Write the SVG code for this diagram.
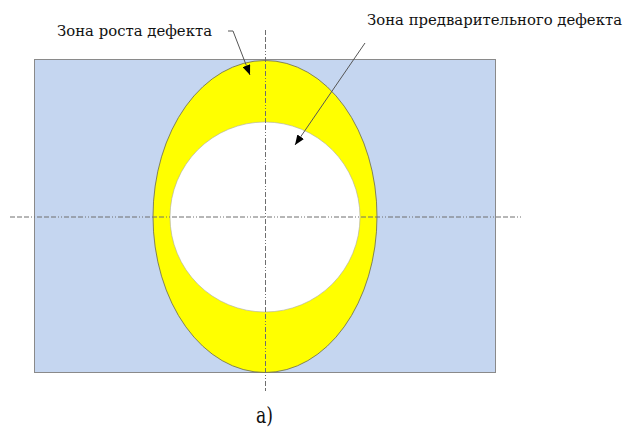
<svg xmlns="http://www.w3.org/2000/svg" width="630" height="427" viewBox="0 0 630 427">
<style>
.lbl{font-family:'DejaVu Serif','Liberation Serif',serif;fill:#111}
.axis{stroke:#6e6e6e;stroke-width:1;fill:none;stroke-dasharray:5,2,5,2,5,2,1,2,1,2}
.ldr{stroke:#555;stroke-width:1;fill:none}
</style>
<defs>
<marker id="ah" viewBox="0 0 10 8" refX="10" refY="4" markerWidth="10" markerHeight="8" markerUnits="userSpaceOnUse" orient="auto">
<path d="M0,0 L10,4 L0,8 Z" fill="#000"/>
</marker>
</defs>
<rect width="630" height="427" fill="#fff"/>
<g id="plate">
<rect x="34.5" y="59.5" width="461" height="313" fill="#C5D6F0" stroke="#8a8a8a" stroke-width="1"/>
</g>
<g id="growth-zone">
<ellipse cx="265" cy="216.5" rx="112" ry="156" fill="#FFFF00" stroke="#6a6a50" stroke-width="0.8"/>
</g>
<g id="initial-defect">
<circle cx="265" cy="217" r="95" fill="#fff" stroke="#aaa" stroke-width="0.6"/>
</g>
<g id="axes">
<line class="axis" x1="10" y1="217" x2="523" y2="217"/>
<line class="axis" x1="265.5" y1="30" x2="265.5" y2="391"/>
</g>
<g id="connectors">
<polyline class="ldr" points="228,31 233,31 250,75" marker-end="url(#ah)"/>
<line class="ldr" x1="365" y1="43" x2="295" y2="145" marker-end="url(#ah)"/>
</g>
<g id="labels">
<text class="lbl" x="57" y="36" font-size="15" textLength="155" lengthAdjust="spacingAndGlyphs">Зона роста дефекта</text>
<text class="lbl" x="367" y="25" font-size="14.5" textLength="255" lengthAdjust="spacingAndGlyphs">Зона предварительного дефекта</text>
<text class="lbl" x="256" y="423" font-size="22" textLength="17" lengthAdjust="spacingAndGlyphs">а)</text>
</g>
</svg>
